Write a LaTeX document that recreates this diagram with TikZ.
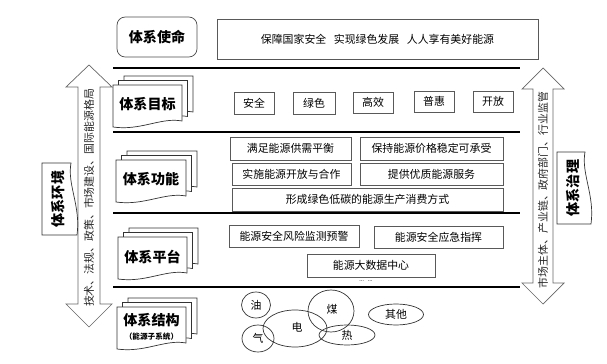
\documentclass[tikz,border=0pt]{standalone}
\usepackage{fontspec}
\newfontfamily\cjk{Noto Sans CJK SC}
\usetikzlibrary{shapes.geometric}
\newcommand\smallfont{\cjk\fontsize{9.3}{11}\selectfont}
\newcommand\headfont{\cjk\bfseries\fontsize{12}{14}\selectfont}
\newcommand\subfont{\cjk\bfseries\fontsize{6.5}{8}\selectfont}
\def\uu{0.03cm}
\tikzset{
  box/.style={draw=black!65, line width=0.6pt, fill=white, inner sep=0pt, font=\smallfont},
  docline/.style={draw=black!80, line width=0.6pt, fill=white},
  head/.style={inner sep=0pt, font=\headfont},
  sepline/.style={line width=1.6pt, black},
  bigarrow/.style={draw=black!60, line width=0.6pt, fill=white},
  arrowtext/.style={inner sep=0pt, font=\smallfont, text=black!85, rotate=90},
  ell/.style={ellipse, draw=black!80, line width=0.6pt, inner sep=0pt, font=\smallfont},
}
\newcommand\bx[6]{\node[box, minimum width={(#4-#2)*\uu}, minimum height={(#5-#3)*\uu}] (#1) at ({(#2+#4)/2},{(#3+#5)/2}) {#6};}
\newcommand\doclayer[4]{%
  \filldraw[docline] (#1,#2) -- ({#1+#3},#2) -- ({#1+#3},{#2+#4-6}) .. controls ({#1+0.7*#3},{#2+#4-10}) and ({#1+0.4*#3},{#2+#4+4}) .. (#1,{#2+#4}) -- cycle;}
\newcommand\docstack[6]{%
  \doclayer{#2+11}{#3-9}{#4}{#5}
  \doclayer{#2+5.5}{#3-4.5}{#4}{#5}
  \doclayer{#2}{#3}{#4}{#5}
  \node[head, align=center] (#1) at ({#2+#4/2},{#3+#5/2-1.5}) {#6};}
\newcommand\rdoc[6]{%
  \filldraw[docline] ({#4-6},#3) -- (#2,#3) -- (#2,#5) -- (#4,#5) .. controls ({#4+4},{#3+0.6*(#5-#3)}) and ({#4-10},{#3+0.3*(#5-#3)}) .. ({#4-6},#3) -- cycle;
  \node[head, rotate=90] (#1) at ({(#2+#4)/2-1},{(#3+#5)/2}) {#6};}
\begin{document}
\begin{tikzpicture}[x=\uu, y=-\uu]
\useasboundingbox (0,0) rectangle (607,364);
% separator lines
\draw[sepline] (113,68) -- (520,68);
\draw[sepline] (113,132) -- (520,132);
\draw[sepline] (113,213) -- (520,213);
\draw[sepline] (113,287) -- (520,287);
% mission
\node[draw=black!70, line width=0.6pt, rounded corners=7pt, minimum width={80*\uu}, minimum height={40*\uu}, font=\headfont, inner sep=0pt] (mission) at (157,37) {体系使命};
\bx{missiontext}{217}{19}{538}{59}{保障国家安全\hspace{0.7em}实现绿色发展\hspace{0.7em}人人享有美好能源}
% left arrow
\path[bigarrow] (89,65) -- (112,87) -- (100,87) -- (100,304) -- (112,304) -- (89,327) -- (66,304) -- (78,304) -- (78,87) -- (66,87) -- cycle;
\node[arrowtext] (envtext) at (89,198) {技术、法规、政策、市场建设、国际能源格局};
% right arrow
\path[bigarrow] (543,68) -- (564,89) -- (553,89) -- (553,283) -- (564,283) -- (543,304) -- (522,283) -- (533,283) -- (533,89) -- (522,89) -- cycle;
\node[arrowtext] (govtext) at (543,190) {市场主体、产业链、政府部门、行业监管};
% side boxes
\rdoc{env}{42}{163}{77}{235}{体系环境}
\rdoc{gov}{557}{152}{591}{224}{体系治理}
% document stacks
\docstack{goal}{113}{85}{69}{42}{体系目标}
\docstack{func}{116}{160}{70}{42}{体系功能}
\docstack{plat}{118}{237}{69}{42}{体系平台}
\docstack{struct}{117}{307}{69}{42}{体系结构\\[-2pt]{\subfont （能源子系统）}}
% goals
\bx{g1}{234}{92}{274}{114}{安全}
\bx{g2}{293}{92}{335}{114}{绿色}
\bx{g3}{353}{92}{393}{113}{高效}
\bx{g4}{414}{91}{454}{112}{普惠}
\bx{g5}{473}{91}{513}{112}{开放}
% functions
\bx{f1}{230}{137}{351}{160}{满足能源供需平衡}
\bx{f2}{360}{137}{503}{160}{保持能源价格稳定可承受}
\bx{f3}{232}{163}{351}{185}{实施能源开放与合作}
\bx{f4}{360}{163}{503}{185}{提供优质能源服务}
\bx{f5}{232}{188}{503}{211}{形成绿色低碳的能源生产消费方式}
% platform
\bx{p1}{229}{225}{359}{247}{能源安全风险监测预警}
\bx{p2}{374}{226}{503}{248}{能源安全应急指挥}
\bx{p3}{307}{254}{435}{277}{能源大数据中心}
\node[inner sep=0pt, font=\fontsize{6}{7}\selectfont] (dots) at (366,281) {\ldots\ \ldots};
% energy subsystems
\node[ell, minimum width={29*\uu}, minimum height={26*\uu}] (oil) at (256,305) {油};
\node[ell, minimum width={32*\uu}, minimum height={27*\uu}] (gas) at (258,338.5) {气};
\node[ell, minimum width={64*\uu}, minimum height={37*\uu}] (elec) at (295,328.5) {};
\node[inner sep=0pt, font=\smallfont] (eleclabel) at (297,327) {电};
\node[ell, minimum width={46*\uu}, minimum height={42*\uu}] (coal) at (331,311) {};
\node[inner sep=0pt, font=\smallfont] (coallabel) at (332,309) {煤};
\node[ell, minimum width={56*\uu}, minimum height={20*\uu}] (heat) at (347,335) {热};
\node[ell, minimum width={55*\uu}, minimum height={21*\uu}] (other) at (396,314.5) {其他};
\end{tikzpicture}
\end{document}
